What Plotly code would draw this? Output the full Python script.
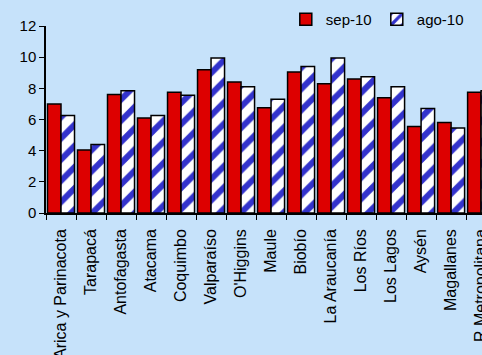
import plotly.graph_objects as go

regions = ["Arica y Parinacota", "Tarapacá", "Antofagasta", "Atacama", "Coquimbo",
           "Valparaíso", "O'Higgins", "Maule", "Biobío", "La Araucanía",
           "Los Ríos", "Los Lagos", "Aysén", "Magallanes", "R.Metropolitana"]
sep10 = [7.0, 4.05, 7.6, 6.1, 7.75, 9.2, 8.4, 6.75, 9.05, 8.3, 8.6, 7.4, 5.55, 5.8, 7.75]
ago10 = [6.25, 4.4, 7.85, 6.25, 7.55, 9.95, 8.1, 7.3, 9.4, 9.95, 8.75, 8.1, 6.7, 5.45, 7.85]

bg = "#C6E2FA"
fig = go.Figure()
fig.add_bar(x=regions, y=sep10, name="sep-10",
            marker=dict(color="#DD0000", line=dict(color="black", width=1.5)))
fig.add_bar(x=regions, y=ago10, name="ago-10",
            marker=dict(color="white", line=dict(color="black", width=1.5),
                        pattern=dict(shape="/", fgcolor="#3333CC", bgcolor="white",
                                     fgopacity=1, size=15, solidity=0.4,
                                     fillmode="replace")))

fig.update_layout(
    width=482, height=355,
    margin=dict(l=46, r=0, t=26, b=142, pad=0, autoexpand=False),
    paper_bgcolor=bg, plot_bgcolor=bg,
    barmode="group", bargap=0.1, bargroupgap=0,
    font=dict(family="Liberation Sans, Arial", size=14, color="black"),
    showlegend=True,
    legend=dict(orientation="h", x=0.55, y=1.035, xanchor="left", yanchor="middle",
                bgcolor="rgba(0,0,0,0)", font=dict(size=15), entrywidth=46,
                traceorder="normal"),
)
fig.update_xaxes(range=[-0.5, 14.03], showline=True, linecolor="black", linewidth=1.5,
                 ticks="outside", ticklen=5, tickcolor="black", tickson="boundaries",
                 tickangle=-90, tickfont=dict(size=16), ticklabelstandoff=8,
                 automargin=False, showgrid=False, fixedrange=True)
fig.update_yaxes(range=[0, 12], dtick=2, showline=True, linecolor="black", linewidth=1.5,
                 ticks="outside", ticklen=5, tickcolor="black", showgrid=False,
                 automargin=False, zeroline=False, tickfont=dict(size=15), fixedrange=True)

fig.write_html("out.html")
